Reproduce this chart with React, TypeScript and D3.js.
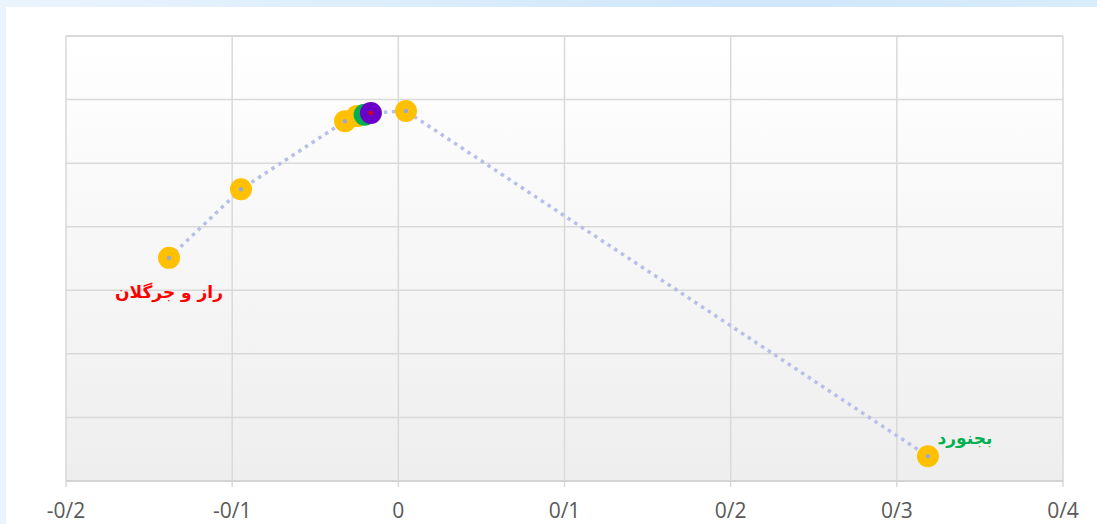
import React from "react";
import * as d3 from "d3";

const xValues = [-0.138, -0.0947, -0.0321, -0.0249, -0.0203, -0.0165, 0.0046, 0.3187];
const yValues = [3.51, 4.59, 5.66, 5.74, 5.76, 5.79, 5.82, 0.39];
const pointColors = ["#FFC000", "#FFC000", "#FFC000", "#FFC000", "#00B050", "#6A00C8", "#FFC000", "#FFC000"];
const centerColors = ["#9AA6D6", "#9AA6D6", "#9AA6D6", "#9AA6D6", "#9AA6D6", "#E00000", "#9AA6D6", "#9AA6D6"];
const xTicks = [-0.2, -0.1, 0, 0.1, 0.2, 0.3, 0.4];
const yTicks = [0, 1, 2, 3, 4, 5, 6, 7];
const labels = [
  { index: 0, text: "راز و جرگلان", color: "#FF0000", dx: 0, dy: 40 },
  { index: 7, text: "بجنورد", color: "#00B050", dx: 37, dy: -12 },
];

const W = 1097;
const H = 524;
const left = 66, right = 1063, top = 36, bottom = 481;

function fmt(v: number) {
  const r = Math.round(v * 10) / 10;
  if (r === 0) return "0";
  const s = Math.abs(r).toFixed(1).replace(".", "/");
  return (r < 0 ? "-" : "") + s;
}

export default function App() {
  const x = d3.scaleLinear().domain([-0.2, 0.4]).range([left, right]);
  const y = d3.scaleLinear().domain([0, 7]).range([bottom, top]);
  const order = d3.range(xValues.length).sort((a, b) => xValues[a] - xValues[b]);
  const line = d3.line<number>().x((i) => x(xValues[i])).y((i) => y(yValues[i]));

  return (
    <div style={{ position: "fixed", left: 0, top: 0, width: W, height: H }}>
      <svg width={W} height={H} style={{ display: "block" }}>
        <defs>
          <linearGradient id="band" x1="0" x2="1" y1="0" y2="0">
            <stop offset="0" stopColor="#eaf4fd" />
            <stop offset="0.7" stopColor="#cfe6fb" />
            <stop offset="1" stopColor="#d9ecfb" />
          </linearGradient>
          <linearGradient id="plotbg" x1="0" x2="0" y1="0" y2="1">
            <stop offset="0" stopColor="#ffffff" />
            <stop offset="1" stopColor="#eeeeee" />
          </linearGradient>
        </defs>
        <rect x={0} y={0} width={W} height={H} fill="#eaf4fd" />
        <rect x={0} y={0} width={W} height={7} fill="url(#band)" />
        <rect x={6} y={7} width={W - 6} height={H - 7} fill="#ffffff" />
        <rect x={left} y={top} width={right - left} height={bottom - top} fill="url(#plotbg)" />
        {yTicks.map((t) => (
          <line key={"h" + t} x1={left} x2={right} y1={y(t)} y2={y(t)} stroke="#d9d9d9" strokeWidth={t === 7 ? 2 : 1.5} />
        ))}
        {xTicks.map((t) => (
          <line key={"v" + t} x1={x(t)} x2={x(t)} y1={top} y2={bottom + 6} stroke="#d9d9d9" strokeWidth={1.5} />
        ))}
        <line x1={left} x2={right} y1={bottom} y2={bottom} stroke="#cfcfcf" strokeWidth={1.5} />
        {xTicks.map((t) => (
          <text key={"t" + t} x={x(t)} y={518} textAnchor="middle" fontFamily="'Open Sans', 'DejaVu Sans', sans-serif" fontSize={21} fill="#595959">
            {fmt(t)}
          </text>
        ))}
        <path d={line(order) || ""} fill="none" stroke="#b8bfe8" strokeWidth={3.5} strokeDasharray="3.5 4.5" />
        {order.map((i) => (
          <g key={"p" + i}>
            <circle cx={x(xValues[i])} cy={y(yValues[i])} r={11} fill={pointColors[i]} />
            <circle cx={x(xValues[i])} cy={y(yValues[i])} r={2.2} fill={centerColors[i]} />
          </g>
        ))}
        {labels.map((l) => (
          <text
            key={"l" + l.index}
            x={x(xValues[l.index]) + l.dx}
            y={y(yValues[l.index]) + l.dy}
            textAnchor="middle"
            direction="rtl"
            fontFamily="'DejaVu Sans', sans-serif"
            fontWeight="bold"
            fontSize={17}
            fill={l.color}
          >
            {l.text}
          </text>
        ))}
      </svg>
    </div>
  );
}
